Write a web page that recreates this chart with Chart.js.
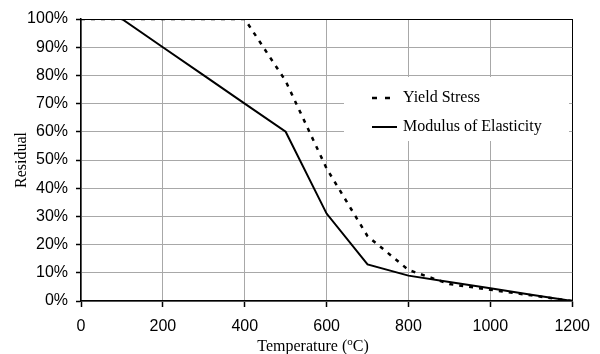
<!DOCTYPE html>
<html lang="en">
<head>
    <meta charset="UTF-8">
    <title>Residual Strength vs Temperature</title>
    <style>
        body {
            margin: 0;
            padding: 0;
            background-color: #fff;
        }
        .chart-container {
            width: 600px;
            height: 354px;
        }
    </style>
</head>
<body>

<div class="chart-container">
    <canvas id="residualChart" width="600" height="354"></canvas>
</div>

<script src="https://cdn.jsdelivr.net/npm/chart.js"></script>

<script>
    // Temperatures in degrees C
    const temperatures = [0, 100, 200, 300, 400, 500, 600, 700, 800, 900, 1000, 1100, 1200];

    // Reduction factors (fraction of room-temperature value)
    const yieldStress = [1.00, 1.00, 1.00, 1.00, 1.00, 0.78, 0.47, 0.23, 0.11, 0.06, 0.04, 0.02, 0.00];
    const modulus = [1.00, 1.00, 0.90, 0.80, 0.70, 0.60, 0.31, 0.13, 0.09, 0.0675, 0.045, 0.0225, 0.00];

    const seriesLabels = ['Yield Stress', 'Modulus of Elasticity'];
    const xAxisTitle = ['Temperature (', 'o', 'C)'];
    const yAxisTitle = 'Residual';

    const sansFont = "'Liberation Sans', Arial, sans-serif";
    const serifFont = "'Liberation Serif', 'Times New Roman', serif";

    function toPoints(values) {
        return temperatures.map((t, i) => ({ x: t, y: values[i] }));
    }

    // Legend sits inside the plot on a white box
    const innerLegend = {
        id: 'innerLegend',
        afterDraw(chart) {
            const ctx = chart.ctx;
            ctx.save();
            ctx.fillStyle = '#fff';
            ctx.fillRect(344, 77, 225, 64);

            const rows = [98, 127];
            chart.data.datasets.forEach((ds, i) => {
                const y = rows[i];
                ctx.beginPath();
                ctx.strokeStyle = ds.borderColor;
                ctx.lineWidth = ds.borderWidth;
                ctx.setLineDash(i === 0 ? [5, 8] : []);
                ctx.moveTo(372, y);
                ctx.lineTo(i === 0 ? 390 : 397, y);
                ctx.stroke();

                ctx.setLineDash([]);
                ctx.fillStyle = '#000';
                ctx.font = '16px ' + serifFont;
                ctx.textAlign = 'left';
                ctx.textBaseline = 'middle';
                ctx.fillText(ds.label, 403, y);
            });
            ctx.restore();
        }
    };

    // X axis title with a superscript "o"
    const xTitle = {
        id: 'xTitle',
        afterDraw(chart) {
            const ctx = chart.ctx;
            ctx.save();
            ctx.fillStyle = '#000';
            ctx.textBaseline = 'alphabetic';
            ctx.textAlign = 'left';

            const mainFont = '16px ' + serifFont;
            const supFont = '11px ' + serifFont;
            ctx.font = mainFont;
            const w0 = ctx.measureText(xAxisTitle[0]).width;
            const w2 = ctx.measureText(xAxisTitle[2]).width;
            ctx.font = supFont;
            const w1 = ctx.measureText(xAxisTitle[1]).width;

            let x = 313 - (w0 + w1 + w2) / 2;
            const y = 351;
            ctx.font = mainFont;
            ctx.fillText(xAxisTitle[0], x, y);
            x += w0;
            ctx.font = supFont;
            ctx.fillText(xAxisTitle[1], x, y - 6);
            x += w1;
            ctx.font = mainFont;
            ctx.fillText(xAxisTitle[2], x, y);
            ctx.restore();
        }
    };

    const ctx = document.getElementById('residualChart').getContext('2d');
    const residualChart = new Chart(ctx, {
        type: 'line',
        data: {
            datasets: [{
                label: seriesLabels[0],
                data: toPoints(yieldStress),
                borderColor: '#000',
                borderWidth: 2.5,
                borderDash: [4, 6],
                pointRadius: 0,
                tension: 0,
                fill: false
            }, {
                label: seriesLabels[1],
                data: toPoints(modulus),
                borderColor: '#000',
                borderWidth: 2,
                pointRadius: 0,
                tension: 0,
                fill: false
            }]
        },
        options: {
            responsive: false,
            animation: false,
            layout: {
                padding: { left: 0, top: 19, right: 26, bottom: 0 }
            },
            plugins: {
                legend: { display: false },
                tooltip: { enabled: false }
            },
            scales: {
                x: {
                    type: 'linear',
                    min: 0,
                    max: 1200,
                    ticks: {
                        stepSize: 200,
                        color: '#000',
                        padding: 10,
                        maxRotation: 0,
                        font: { family: sansFont, size: 16 },
                        callback: v => String(v)
                    },
                    grid: {
                        color: c => (c.tick && c.tick.value === 1200) ? '#000' : '#a8a8a8',
                        lineWidth: 1,
                        tickLength: 6,
                        tickWidth: 1.5,
                        tickColor: '#000'
                    },
                    border: { color: '#000', width: 1.5 },
                    afterFit: scale => { scale.height = 53; }
                },
                y: {
                    min: 0,
                    max: 1,
                    ticks: {
                        stepSize: 0.1,
                        color: '#000',
                        padding: 8,
                        font: { family: sansFont, size: 16 },
                        callback: v => Math.round(v * 100) + '%'
                    },
                    grid: {
                        color: c => (c.tick && c.tick.value === 1) ? '#000' : '#a8a8a8',
                        lineWidth: 1,
                        tickLength: 5,
                        tickWidth: 1.5,
                        tickColor: '#000'
                    },
                    border: { color: '#000', width: 1.5 },
                    title: {
                        display: true,
                        text: yAxisTitle,
                        color: '#000',
                        padding: { top: 12, bottom: 0 },
                        font: { family: serifFont, size: 16 }
                    },
                    afterFit: scale => { scale.width = 81; }
                }
            }
        },
        plugins: [innerLegend, xTitle]
    });
</script>

</body>
</html>
